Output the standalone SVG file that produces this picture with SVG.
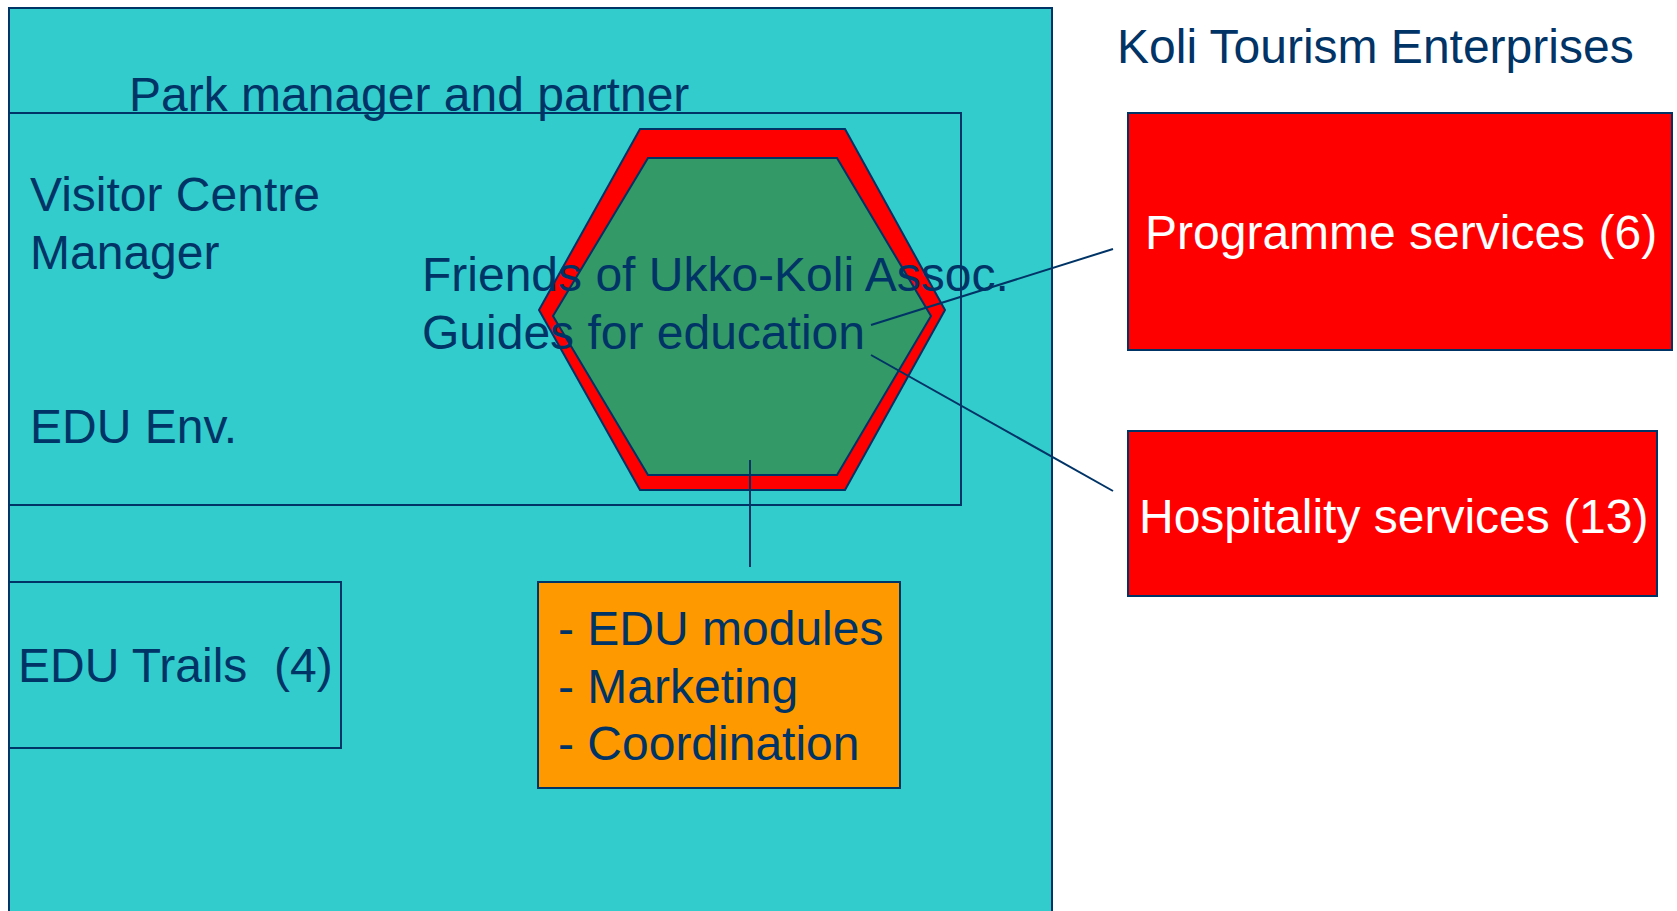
<svg xmlns="http://www.w3.org/2000/svg" width="1677" height="911" viewBox="0 0 1677 911">
<style>
text{font-family:"Liberation Sans",Arial,sans-serif;font-size:48px;fill:#003366}
.w{fill:#ffffff}
.box{stroke:#003366;stroke-width:2}
.ln{stroke:#003366;stroke-width:2;fill:none}
</style>
<rect width="1677" height="911" fill="#ffffff"/>
<g id="park-area">
<rect class="box" x="9" y="8" width="1043" height="920" fill="#33CCCC"/>
</g>
<g id="park-manager">
<rect class="box" x="9" y="113" width="952" height="392" fill="none"/>
<text x="129" y="111">Park manager and partner</text>
<text x="30" y="211">Visitor Centre</text>
<text x="30" y="269">Manager</text>
<text x="30" y="443">EDU Env.</text>
</g>
<g id="friends">
<polygon class="box" points="640,129 845,129 945,310 845,490 640,490 539,310" fill="#FF0000"/>
<polygon class="box" points="648,158 837,158 931,316 837,475 648,475 553,316" fill="#339966"/>
<text x="422" y="291">Friends of Ukko-Koli Assoc.</text>
<text x="422" y="349">Guides for education</text>
</g>
<g id="connectors">
<line class="ln" x1="871" y1="325" x2="1113" y2="249"/>
<line class="ln" x1="871" y1="355" x2="1113" y2="491"/>
<line class="ln" x1="750" y1="460" x2="750" y2="567"/>
</g>
<g id="koli-tourism">
<text x="1117" y="63">Koli Tourism Enterprises</text>
</g>
<g id="programme">
<rect class="box" x="1128" y="113" width="544" height="237" fill="#FF0000"/>
<text class="w" x="1145" y="249">Programme services (6)</text>
</g>
<g id="hospitality">
<rect class="box" x="1128" y="431" width="529" height="165" fill="#FF0000"/>
<text class="w" x="1139" y="533">Hospitality services (13)</text>
</g>
<g id="edu-trails">
<rect class="box" x="9" y="582" width="332" height="166" fill="none"/>
<text x="18" y="682">EDU Trails &#160;(4)</text>
</g>
<g id="edu-modules">
<rect class="box" x="538" y="582" width="362" height="206" fill="#FF9900"/>
<text x="558" y="645">- EDU modules</text>
<text x="558" y="703">- Marketing</text>
<text x="558" y="760">- Coordination</text>
</g>
</svg>
